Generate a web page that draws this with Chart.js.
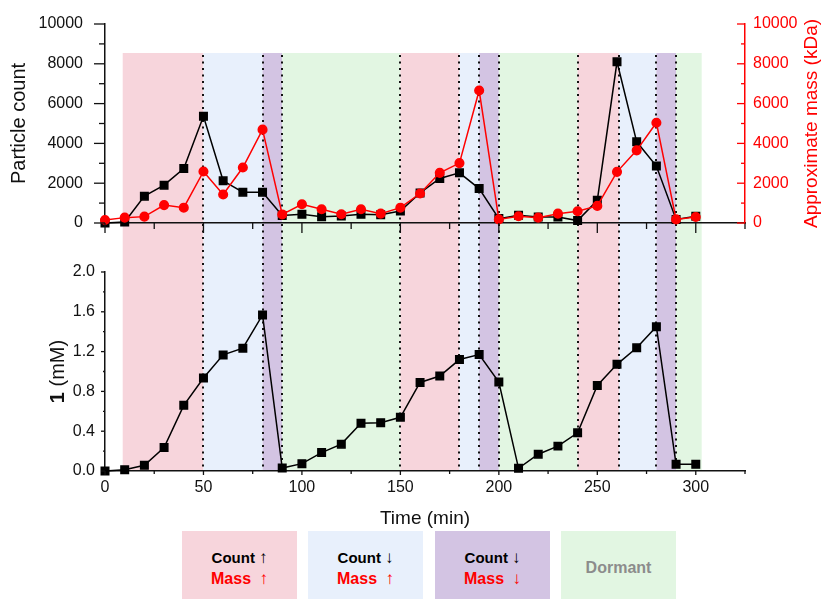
<!DOCTYPE html>
<html>
<head>
<meta charset="utf-8">
<script src="https://cdn.jsdelivr.net/npm/chart.js@4.4.1/dist/chart.umd.min.js"></script>
<style>
    body { margin: 0; background: #fff; font-family: 'Liberation Sans', Arial, sans-serif; }
    #wrap { position: relative; width: 823px; height: 599px; overflow: hidden; }
    canvas { position: absolute; left: 0; top: 0; }
    .key { position: absolute; top: 531px; width: 115px; height: 68px; text-align: center;
           font-weight: bold; font-size: 15px; line-height: 21px; box-sizing: border-box; padding-top: 16px; }
    .key .arrow { font-weight: normal; font-size: 17px; margin-left: 4px; }
    .key .mass { color: #ff0000; font-size: 16px; }
    .key.dormant { color: #8c8c8c; font-size: 16px; padding-top: 26px; }
</style>
</head>
<body>
<div id="wrap">
    <canvas id="concChart" width="823" height="530"></canvas>
    <canvas id="countChart" width="823" height="250"></canvas>
    <div class="key" style="left:182px;background:#f7d5dc;">Count<span class="arrow">↑</span><br><span class="mass">Mass <span class="arrow">↑</span></span></div>
    <div class="key" style="left:308px;background:#e8f0fc;">Count<span class="arrow">↓</span><br><span class="mass">Mass <span class="arrow">↑</span></span></div>
    <div class="key" style="left:435px;background:#d3c4e3;">Count<span class="arrow">↓</span><br><span class="mass">Mass <span class="arrow">↓</span></span></div>
    <div class="key dormant" style="left:561px;background:#e2f6e2;">Dormant</div>
</div>
<script>
// ---- data ----
const times = [0, 10, 20, 30, 40, 50, 60, 70, 80, 90, 100, 110, 120, 130, 140, 150,
               160, 170, 180, 190, 200, 210, 220, 230, 240, 250, 260, 270, 280, 290, 300];
const particleCount = [0, 50, 1350, 1900, 2740, 5360, 2120, 1550, 1550, 380, 437, 317, 352, 437, 420, 600,
                       1510, 2240, 2520, 1730, 220, 390, 300, 300, 120, 1140, 8100, 4080, 2860, 180, 340];
const approxMass = [150, 270, 320, 900, 770, 2590, 1430, 2790, 4690, 430, 940, 690, 437, 690, 470, 770,
                    1480, 2520, 3010, 6660, 180, 340, 270, 470, 590, 860, 2570, 3650, 5040, 180, 300];
const concentration = [0, 0.013, 0.057, 0.236, 0.66, 0.934, 1.167, 1.234, 1.568, 0.03, 0.074, 0.185, 0.27, 0.479, 0.486, 0.54,
                       0.89, 0.954, 1.12, 1.17, 0.894, 0.027, 0.169, 0.25, 0.384, 0.86, 1.072, 1.238, 1.45, 0.067, 0.067];

// phase boundaries (min) and the phase between each pair
const phaseBounds = [9, 50, 80, 90, 150, 180, 190, 200, 240, 261, 280, 290, 303];
const phaseKinds = ['grow', 'shrink', 'collapse', 'dormant', 'grow', 'shrink', 'collapse', 'dormant',
                    'grow', 'shrink', 'collapse', 'dormant'];
const phaseColors = { grow: '#f7d5dc', shrink: '#e8f0fc', collapse: '#d3c4e3', dormant: '#e2f6e2' };

const FONT = "'Liberation Sans', Arial, sans-serif";
const SHADE_TOP = 53;

function toPoints(ys) {
    return times.map((t, i) => ({ x: t, y: ys[i] }));
}

// force exact box sizes so both panels share the same x pixels
function fixSize(size) {
    return function(scale) {
        if (scale.isHorizontal()) scale.height = size; else scale.width = size;
        scale.paddingTop = 0; scale.paddingBottom = 0;
        scale.paddingLeft = 0; scale.paddingRight = 0;
    };
}

// phase shading + dotted separators (drawn on the back canvas)
const phaseShading = {
    id: 'phaseShading',
    beforeDraw(chart) {
        const ctx = chart.ctx;
        const x = chart.scales.x;
        const bottom = chart.chartArea.bottom;
        ctx.save();
        phaseKinds.forEach((kind, i) => {
            const x0 = x.getPixelForValue(phaseBounds[i]);
            const x1 = x.getPixelForValue(phaseBounds[i + 1]);
            ctx.fillStyle = phaseColors[kind];
            ctx.fillRect(x0, SHADE_TOP, x1 - x0, bottom - SHADE_TOP);
        });
        ctx.strokeStyle = '#111';
        ctx.lineWidth = 2;
        ctx.setLineDash([2, 4.5]);
        for (let i = 1; i < phaseBounds.length - 1; i++) {
            const px = Math.round(x.getPixelForValue(phaseBounds[i]));
            ctx.beginPath();
            ctx.moveTo(px, SHADE_TOP + 2);
            ctx.lineTo(px, bottom);
            ctx.stroke();
        }
        ctx.restore();
    }
};

// major + minor tick marks
const tickMarks = {
    id: 'tickMarks',
    afterDraw(chart, args, opts) {
        const ctx = chart.ctx;
        Object.entries(opts.axes || {}).forEach(([id, cfg]) => {
            const scale = chart.scales[id];
            const n = Math.round((scale.max - scale.min) / cfg.minor);
            ctx.save();
            ctx.strokeStyle = cfg.color;
            ctx.lineWidth = 1.3;
            for (let i = 0; i <= n; i++) {
                const v = scale.min + i * cfg.minor;
                const r = v / cfg.major;
                const len = Math.abs(r - Math.round(r)) < 1e-6 ? cfg.majorLen : cfg.minorLen;
                const p = scale.getPixelForValue(v);
                ctx.beginPath();
                if (scale.isHorizontal()) {
                    ctx.moveTo(p, scale.top);
                    ctx.lineTo(p, scale.top + len);
                } else {
                    const left = scale.position === 'left';
                    const x0 = left ? scale.right : scale.left;
                    const sign = (left ? -1 : 1) * cfg.dir;
                    ctx.moveTo(x0, p);
                    ctx.lineTo(x0 + sign * len, p);
                }
                ctx.stroke();
            }
            ctx.restore();
        });
    }
};

// rotated axis titles (bottom-to-top)
const sideTitles = {
    id: 'sideTitles',
    afterDraw(chart, args, opts) {
        const ctx = chart.ctx;
        (opts.items || []).forEach(item => {
            const scale = chart.scales[item.axis];
            const cy = (scale.top + scale.bottom) / 2;
            ctx.save();
            ctx.translate(item.x, cy);
            ctx.rotate(-Math.PI / 2);
            ctx.textBaseline = 'middle';
            ctx.fillStyle = item.color;
            let total = 0;
            item.parts.forEach(p => {
                ctx.font = `${p.weight} ${item.size}px ${FONT}`;
                p.w = ctx.measureText(p.text).width;
                total += p.w;
            });
            let cx = -total / 2;
            ctx.textAlign = 'left';
            item.parts.forEach(p => {
                ctx.font = `${p.weight} ${item.size}px ${FONT}`;
                ctx.fillText(p.text, cx, 0);
                cx += p.w;
            });
            ctx.restore();
        });
    }
};

const xAxisBase = {
    type: 'linear',
    min: 0,
    max: 325,
    ticks: { stepSize: 50, includeBounds: false },
    grid: { drawOnChartArea: false, drawTicks: false },
    border: { color: '#111', width: 1.5 }
};

// ---- bottom panel (back canvas, carries the shading) ----
new Chart(document.getElementById('concChart'), {
    type: 'line',
    data: {
        datasets: [{
            data: toPoints(concentration),
            borderColor: '#000',
            backgroundColor: '#000',
            borderWidth: 1.5,
            pointStyle: 'rect',
            pointRadius: 5.3,
            pointHoverRadius: 5.3,
            clip: false
        }]
    },
    options: {
        responsive: false,
        animation: false,
        devicePixelRatio: 1,
        layout: { padding: { top: 272, right: 78, left: 0, bottom: 0 } },
        plugins: {
            legend: { display: false },
            tooltip: { enabled: false },
            tickMarks: {
                axes: {
                    x: { major: 50, minor: 25, majorLen: 4, minorLen: 3, dir: 1, color: '#111' },
                    y: { major: 0.4, minor: 0.2, majorLen: 4, minorLen: 2, dir: 1, color: '#111' }
                }
            },
            sideTitles: {
                items: [{ axis: 'y', x: 58, size: 20, color: '#111',
                          parts: [{ text: '1', weight: 'bold' }, { text: ' (mM)', weight: 'normal' }] }]
            }
        },
        scales: {
            x: Object.assign({}, xAxisBase, {
                afterFit: fixSize(59),
                ticks: { stepSize: 50, includeBounds: false, padding: 7, color: '#111',
                         font: { family: FONT, size: 16 } },
                title: { display: true, text: 'Time (min)', color: '#111', padding: { top: 2, bottom: 0 },
                         font: { family: FONT, size: 19 } }
            }),
            y: {
                type: 'linear',
                min: 0,
                max: 2,
                afterFit: fixSize(105),
                ticks: { stepSize: 0.4, padding: 10, color: '#111', font: { family: FONT, size: 16 },
                         callback: v => v.toFixed(1) },
                grid: { drawOnChartArea: false, drawTicks: false },
                border: { color: '#111', width: 1.5 }
            }
        }
    },
    plugins: [phaseShading, tickMarks, sideTitles]
});

// ---- top panel (front canvas, transparent) ----
new Chart(document.getElementById('countChart'), {
    type: 'line',
    data: {
        datasets: [{
            label: 'Approximate mass (kDa)',
            data: toPoints(approxMass),
            yAxisID: 'yMass',
            borderColor: '#ff0000',
            backgroundColor: '#ff0000',
            borderWidth: 1.5,
            pointStyle: 'circle',
            pointRadius: 4.3,
            pointHoverRadius: 4.3,
            clip: false
        }, {
            label: 'Particle count',
            data: toPoints(particleCount),
            yAxisID: 'y',
            borderColor: '#000',
            backgroundColor: '#000',
            borderWidth: 1.5,
            pointStyle: 'rect',
            pointRadius: 5.3,
            pointHoverRadius: 5.3,
            clip: false
        }]
    },
    options: {
        responsive: false,
        animation: false,
        devicePixelRatio: 1,
        layout: { padding: { top: 24, right: 0, left: 0, bottom: 0 } },
        plugins: {
            legend: { display: false },
            tooltip: { enabled: false },
            tickMarks: {
                axes: {
                    x: { major: 50, minor: 25, majorLen: 10, minorLen: 6, dir: 1, color: '#111' },
                    y: { major: 2000, minor: 1000, majorLen: 11, minorLen: 6, dir: 1, color: '#111' },
                    yMass: { major: 2000, minor: 1000, majorLen: 8, minorLen: 4, dir: -1, color: '#ff0000' }
                }
            },
            sideTitles: {
                items: [
                    { axis: 'y', x: 19, size: 20, color: '#111',
                      parts: [{ text: 'Particle count', weight: 'normal' }] },
                    { axis: 'yMass', x: 812, size: 19, color: '#ff0000',
                      parts: [{ text: 'Approximate mass (kDa)', weight: 'normal' }] }
                ]
            }
        },
        scales: {
            x: Object.assign({}, xAxisBase, {
                afterFit: fixSize(27),
                ticks: { stepSize: 50, includeBounds: false, display: false }
            }),
            y: {
                type: 'linear',
                position: 'left',
                min: 0,
                max: 10000,
                afterFit: fixSize(105),
                ticks: { stepSize: 2000, padding: 22, color: '#111', font: { family: FONT, size: 16 },
                         callback: v => String(v) },
                grid: { drawOnChartArea: false, drawTicks: false },
                border: { color: '#111', width: 1.5 }
            },
            yMass: {
                type: 'linear',
                position: 'right',
                min: 0,
                max: 10000,
                afterFit: fixSize(78),
                ticks: { stepSize: 2000, padding: 8, color: '#ff0000', font: { family: FONT, size: 16 },
                         callback: v => String(v) },
                grid: { drawOnChartArea: false, drawTicks: false },
                border: { color: '#ff0000', width: 1.5 }
            }
        }
    },
    plugins: [tickMarks, sideTitles]
});
</script>
</body>
</html>
